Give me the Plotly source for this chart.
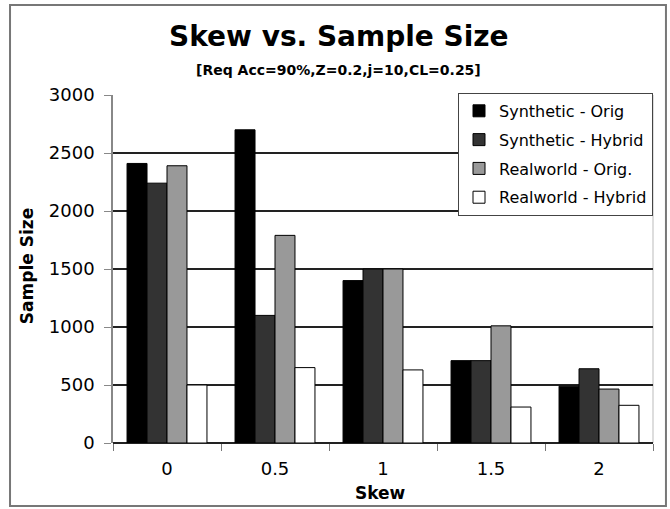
import plotly.graph_objects as go

skew = ["0", "0.5", "1", "1.5", "2"]
synthetic_orig = [2410, 2700, 1400, 710, 490]
synthetic_hybrid = [2240, 1100, 1500, 710, 640]
realworld_orig = [2390, 1790, 1500, 1010, 465]
realworld_hybrid = [500, 650, 630, 310, 325]

series = [
    ("Synthetic - Orig", synthetic_orig, "#000000"),
    ("Synthetic - Hybrid", synthetic_hybrid, "#333333"),
    ("Realworld - Orig.", realworld_orig, "#999999"),
    ("Realworld - Hybrid", realworld_hybrid, "#ffffff"),
]

FONT = "DejaVu Sans"
fig = go.Figure()
for i, (name, vals, col) in enumerate(series):
    fig.add_trace(go.Bar(
        x=skew, y=vals, name=name, legendgroup=f"g{i}",
        marker=dict(color=col, line=dict(color="#000000", width=1)),
    ))

fig.update_layout(
    width=670, height=509,
    margin=dict(l=113, r=17, t=95, b=66),
    paper_bgcolor="white", plot_bgcolor="white",
    barmode="group", bargap=0.26, bargroupgap=0,
    font=dict(family=FONT, color="black", size=18),
    showlegend=True,
    legend=dict(
        x=1.0, xanchor="right", y=1.006, yanchor="top",
        bgcolor="white", bordercolor="#444444", borderwidth=1,
        font=dict(family=FONT, size=16, color="black"),
        tracegroupgap=5, traceorder="grouped",
    ),
    xaxis=dict(
        type="category", showgrid=False, showline=False,
        ticks="outside", tickson="boundaries", ticklen=7, tickcolor="#777777",
        tickfont=dict(size=18), ticklabelstandoff=13,
    ),
    yaxis=dict(
        range=[0, 3000], dtick=500, showgrid=True, gridcolor="#222222", gridwidth=1.5,
        zeroline=True, zerolinecolor="#222222", zerolinewidth=1.5,
        showline=True, linecolor="#888888", linewidth=1.5,
        ticks="outside", ticklen=7, tickcolor="#888888",
        tickfont=dict(size=18), ticklabelstandoff=6,
    ),
    annotations=[
        dict(text="<b>Skew vs. Sample Size</b>", xref="paper", yref="paper",
             x=0.4185, y=1.168, xanchor="center", yanchor="middle", showarrow=False,
             font=dict(family=FONT, size=28, color="black")),
        dict(text="<b>[Req Acc=90%,Z=0.2,j=10,CL=0.25]</b>", xref="paper", yref="paper",
             x=0.4185, y=1.072, xanchor="center", yanchor="middle", showarrow=False,
             font=dict(family=FONT, size=14, color="black")),
        dict(text="<b>Sample Size</b>", xref="paper", yref="paper", textangle=-90,
             x=-0.16, y=0.507, xanchor="center", yanchor="middle", showarrow=False,
             font=dict(family=FONT, size=17, color="black")),
        dict(text="<b>Skew</b>", xref="paper", yref="paper",
             x=0.496, y=-0.143, xanchor="center", yanchor="middle", showarrow=False,
             font=dict(family=FONT, size=17, color="black")),
    ],
    shapes=[
        dict(type="rect", xref="paper", yref="paper",
             x0=-0.1907, x1=1.024, y0=-0.181, y1=1.2586,
             line=dict(color="#777777", width=2), fillcolor="rgba(0,0,0,0)", layer="below"),
        dict(type="line", xref="paper", yref="paper", x0=1, x1=1, y0=0, y1=1,
             line=dict(color="#bbbbbb", width=1), layer="below"),
    ],
)

fig.write_html("out.html")
